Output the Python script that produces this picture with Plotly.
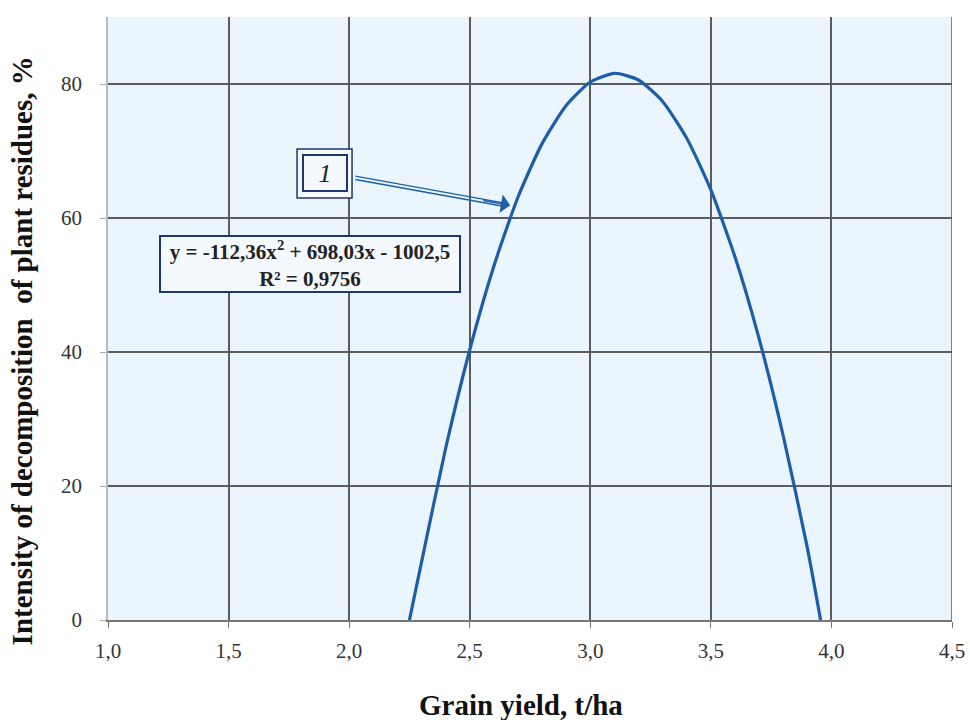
import plotly.graph_objects as go

# Data (fitted curve)
grain_yield = [2.25, 2.3, 2.4, 2.5, 2.6, 2.7, 2.8, 2.9, 3.0, 3.1, 3.2, 3.3, 3.4, 3.5, 3.6, 3.7, 3.8, 3.9, 3.955]
intensity = [0.0, 8.6, 25.6, 40.3, 52.8, 63.1, 71.1, 76.8, 80.3, 81.6, 80.6, 77.4, 71.9, 64.2, 54.2, 42.0, 27.5, 10.8, 0.0]

x_tickvals = [1.0, 1.5, 2.0, 2.5, 3.0, 3.5, 4.0, 4.5]
x_ticktext = ["1,0", "1,5", "2,0", "2,5", "3,0", "3,5", "4,0", "4,5"]
y_tickvals = [0, 20, 40, 60, 80]
y_ticktext = ["0", "20", "40", "60", "80"]

x_title = "<b>Grain yield, t/ha</b>"
y_title = "<b>Intensity of decomposition  of plant residues, %</b>"
equation_text = "y = -112,36x<sup>2</sup> + 698,03x - 1002,5<br>R² = 0,9756"
curve_label = "<i>1</i>"

SERIF = "Liberation Serif, Times New Roman, serif"
BLUE = "#1c5fa8"
NAVY = "#1f3770"
GRID = "#5c5c5c"
BG = "#eaf5fd"

fig = go.Figure()
fig.add_trace(go.Scatter(x=grain_yield, y=intensity, mode="lines",
                         line=dict(color=BLUE, width=3.2, shape="spline", smoothing=0.6),
                         showlegend=False, hoverinfo="skip"))

fig.update_layout(
    width=970, height=720,
    margin=dict(l=108, r=18, t=17, b=100, autoexpand=False),
    paper_bgcolor="white",
    plot_bgcolor=BG,
    font=dict(family=SERIF, color="#333333"),
    xaxis=dict(range=[1.0, 4.5], tickvals=x_tickvals, ticktext=x_ticktext,
               showgrid=True, gridcolor=GRID, gridwidth=1.5,
               zeroline=False, showline=True, linecolor="#777777", linewidth=1.5,
               ticks="outside", ticklen=6, tickcolor="#777777",
               ticklabelstandoff=5, automargin=False,
               tickfont=dict(size=21, family=SERIF, color="#333333")),
    yaxis=dict(range=[0, 90], tickvals=y_tickvals, ticktext=y_ticktext,
               showgrid=True, gridcolor=GRID, gridwidth=1.5,
               zeroline=False, showline=True, linecolor="#b8b8cc", linewidth=1.5,
               ticks="outside", ticklen=6, tickcolor="#aaaaaa",
               ticklabelstandoff=14, automargin=False,
               tickfont=dict(size=21, family=SERIF, color="#333333")),
)

# axis titles
fig.add_annotation(x=0.489, y=-0.141, xref="paper", yref="paper", text=x_title, showarrow=False,
                   xanchor="center", yanchor="middle",
                   font=dict(size=29, family=SERIF, color="#111111"))
fig.add_annotation(x=-0.1015, y=0.446, xref="paper", yref="paper", text=y_title, showarrow=False,
                   xanchor="center", yanchor="middle", textangle=-90,
                   font=dict(size=29, family=SERIF, color="#111111"))

# right border line at x = 4.5
fig.add_shape(type="line", x0=4.5, x1=4.5, y0=0, y1=90, xref="x", yref="y",
              line=dict(color=GRID, width=1.5))

# equation box
fig.add_annotation(x=1.838, y=53.1, xref="x", yref="y", text="<b>" + equation_text + "</b>",
                   showarrow=False, font=dict(size=21, family=SERIF, color="#222222"),
                   bgcolor="#f4f9fe", bordercolor=NAVY, borderwidth=2,
                   width=296, height=52, align="center")

# curve label "1" with double frame
fig.add_shape(type="rect", x0=1.784, x1=2.012, y0=63.0, y1=70.3, xref="x", yref="y",
              line=dict(color=NAVY, width=1.5), fillcolor="#f4f9fe", layer="above")
fig.add_annotation(x=1.90, y=66.65, xref="x", yref="y", text=curve_label,
                   showarrow=False, font=dict(size=26, family=SERIF, color="#222222"),
                   bgcolor="#f4f9fe", bordercolor=NAVY, borderwidth=2,
                   width=40, height=32)

# double-line arrow: two thin parallel lines plus an open head
for off in (-0.25, 0.25):
    fig.add_shape(type="line", x0=2.026, y0=66.0 + off, x1=2.64, y1=62.0 + off,
                  xref="x", yref="y", line=dict(color=BLUE, width=1.4), layer="above")
fig.add_annotation(x=2.668, y=61.9, ax=2.55, ay=62.65, xref="x", yref="y", axref="x", ayref="y",
                   text="", showarrow=True, arrowhead=1, arrowsize=2.2, arrowwidth=1.4,
                   arrowcolor=BLUE, standoff=0)

fig.write_html("out.html", config={"displayModeBar": False},
               post_script="document.body.style.margin='0';document.body.style.overflow='hidden';")
